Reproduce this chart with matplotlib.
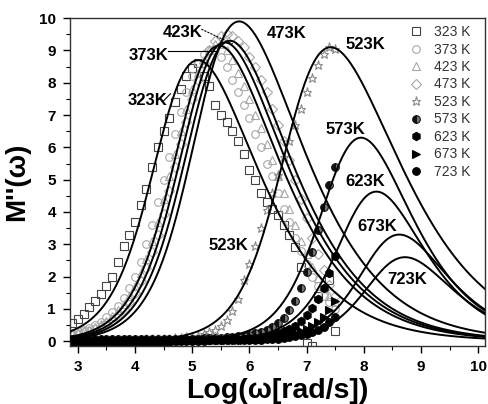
import numpy as np
import matplotlib
matplotlib.use("Agg")
import matplotlib.pyplot as plt

plt.rcParams['font.family'] = ['Liberation Sans', 'DejaVu Sans']

# measured points, log10 of angular frequency
log_w = [2.9, 3.0, 3.1, 3.2, 3.3, 3.4, 3.5, 3.6, 3.7, 3.8,
         3.9, 4.0, 4.1, 4.2, 4.3, 4.4, 4.5, 4.6, 4.7, 4.8,
         4.9, 5.0, 5.1, 5.2, 5.3, 5.4, 5.5, 5.6, 5.7, 5.8,
         5.9, 6.0, 6.1, 6.2, 6.3, 6.4, 6.5, 6.6, 6.7, 6.8,
         6.9, 7.0, 7.1, 7.2, 7.3, 7.4, 7.5]

m_323 = [0.55, 0.70, 0.85, 1.05, 1.25, 1.45, 1.70, 2.00, 2.45, 2.95,
         3.30, 3.70, 4.20, 4.70, 5.40, 6.00, 6.50, 6.90, 7.40, 7.80,
         8.20, 8.45, 8.60, 8.20, 7.90, 7.30, 7.00, 6.80, 6.50, 6.20,
         5.80, 5.30, 5.00, 4.60, 4.30, 4.10, 3.90, 3.60, 3.30, 2.90,
         2.30, -0.05, -0.15, 1.40, 0.60, 1.90, 0.30]
m_373 = [0.25, 0.30, 0.35, 0.42, 0.50, 0.60, 0.75, 0.90, 1.10, 1.35,
         1.65, 2.00, 2.45, 3.00, 3.60, 4.30, 5.00, 5.70, 6.40, 7.10,
         7.70, 8.20, 8.60, 8.90, 9.00, 9.00, 8.80, 8.50, 8.10, 7.70,
         7.30, 6.90, 6.40, 6.00, 5.50, 5.10, 4.60, 4.10, 3.70, 3.20,
         2.80, 2.40, 2.00, 1.70, 1.40, 1.20, 1.00]
m_423 = [0.22, 0.26, 0.30, 0.36, 0.43, 0.52, 0.63, 0.77, 0.95, 1.15,
         1.40, 1.70, 2.10, 2.55, 3.10, 3.70, 4.40, 5.10, 5.80, 6.50,
         7.20, 7.80, 8.30, 8.70, 9.00, 9.20, 9.20, 9.00, 8.70, 8.30,
         7.90, 7.50, 7.00, 6.60, 6.10, 5.60, 5.10, 4.60, 4.10, 3.60,
         3.10, 2.70, 2.30, 1.95, 1.65, 1.40, 1.20]
m_473 = [0.20, 0.23, 0.27, 0.32, 0.38, 0.45, 0.55, 0.67, 0.82, 1.00,
         1.22, 1.50, 1.85, 2.25, 2.75, 3.30, 3.95, 4.65, 5.40, 6.10,
         6.80, 7.50, 8.10, 8.60, 9.00, 9.30, 9.45, 9.50, 9.45, 9.30,
         9.10, 8.80, 8.50, 8.10, 7.70, 7.20, 6.70, 6.20, 5.60, 5.00,
         4.40, 3.80, 3.20, 2.70, 2.20, 1.75, 1.40]
m_523 = [0.03, 0.03, 0.03, 0.03, 0.03, 0.04, 0.04, 0.04, 0.04, 0.05,
         0.05, 0.05, 0.05, 0.06, 0.06, 0.07, 0.07, 0.08, 0.09, 0.10,
         0.12, 0.14, 0.17, 0.21, 0.27, 0.36, 0.48, 0.66, 0.92, 1.30,
         1.90, 2.40, 2.95, 3.50, 4.05, 4.60, 5.15, 5.70, 6.20, 6.70,
         7.20, 7.70, 8.15, 8.55, 8.90, 9.10, 9.05]
m_573 = [0.06, 0.06, 0.06, 0.06, 0.06, 0.06, 0.06, 0.06, 0.06, 0.06,
         0.06, 0.06, 0.06, 0.07, 0.07, 0.07, 0.07, 0.07, 0.07, 0.07,
         0.08, 0.08, 0.08, 0.09, 0.09, 0.10, 0.11, 0.12, 0.13, 0.15,
         0.17, 0.20, 0.24, 0.29, 0.36, 0.45, 0.57, 0.73, 0.95, 1.25,
         1.65, 2.15, 2.75, 3.45, 4.15, 4.85, 5.40]
m_623 = [0.03, 0.03, 0.03, 0.03, 0.03, 0.03, 0.03, 0.03, 0.03, 0.03,
         0.03, 0.03, 0.03, 0.03, 0.03, 0.03, 0.03, 0.03, 0.03, 0.04,
         0.04, 0.04, 0.04, 0.04, 0.05, 0.05, 0.05, 0.06, 0.06, 0.07,
         0.08, 0.09, 0.11, 0.13, 0.16, 0.19, 0.24, 0.30, 0.38, 0.48,
         0.62, 0.80, 1.02, 1.30, 1.65, 2.10, 2.65]
m_673 = [0.00, 0.00, 0.00, 0.00, 0.00, 0.00, 0.00, 0.00, 0.00, 0.00,
         0.00, 0.00, 0.00, 0.00, 0.01, 0.01, 0.01, 0.01, 0.01, 0.01,
         0.02, 0.02, 0.02, 0.02, 0.03, 0.03, 0.03, 0.04, 0.04, 0.04,
         0.05, 0.06, 0.07, 0.08, 0.09, 0.11, 0.13, 0.16, 0.19, 0.24,
         0.30, 0.37, 0.46, 0.58, 0.74, 0.95, 1.25]
m_723 = [-0.05, -0.05, -0.05, -0.05, -0.05, -0.04, -0.04, -0.04, -0.04, -0.04,
         -0.04, -0.03, -0.03, -0.03, -0.03, -0.02, -0.02, -0.02, -0.01, -0.01,
         0.00, 0.00, 0.01, 0.01, 0.02, 0.02, 0.02, 0.03, 0.03, 0.03,
         0.04, 0.04, 0.05, 0.05, 0.06, 0.07, 0.08, 0.10, 0.12, 0.15,
         0.18, 0.22, 0.28, 0.35, 0.45, 0.58, 0.75]

temps = ['323 K', '373 K', '423 K', '473 K', '523 K', '573 K', '623 K', '673 K', '723 K']
series = [m_323, m_373, m_423, m_473, m_523, m_573, m_623, m_673, m_723]

# marker, face, edge, size
styles = [('s', 'none', '#444444', 5.5),
          ('o', 'none', '#a8a8a8', 5.5),
          ('^', 'none', '#a8a8a8', 5.5),
          ('D', 'none', '#a8a8a8', 5.0),
          ('*', 'none', '#8a8a8a', 6.5),
          ('o', '#111111', '#111111', 5.5),
          ('h', '#000000', '#000000', 6.0),
          ('>', '#000000', '#000000', 5.5),
          ('o', '#000000', '#000000', 5.5)]

# Bergman fits: peak position (log w), peak height, beta
fit_peak = [5.10, 5.47, 5.57, 5.66, 5.82, 7.42, 7.95, 8.22, 8.62, 8.72]
fit_height = [8.70, 9.15, 9.25, 9.30, 9.90, 9.10, 6.30, 4.63, 3.30, 2.60]
fit_beta = [0.50, 0.50, 0.50, 0.50, 0.48, 0.45, 0.57, 0.60, 0.60, 0.60]


def bergman(x, xp, mmax, beta):
    r = 10.0 ** (x - xp)
    return mmax / ((1 - beta) + beta / (1 + beta) * (beta / r + r ** beta))


fig = plt.figure(figsize=(4.88, 4.04), dpi=100)
ax = fig.add_axes([0.143, 0.1436, 0.851, 0.8114])

handles = []
for vals, (mk, fc, ec, ms), lab in zip(series, styles, temps):
    h, = ax.plot(log_w, vals, ls='none', marker=mk, mfc=fc, mec=ec, ms=ms,
                 mew=0.8, label=lab, zorder=2)
    if lab == '573 K':
        h.set_fillstyle('left')
        h.set_markerfacecoloralt('#777777')
    handles.append(h)

xx = np.linspace(2.86, 10.12, 500)
for xp, hm, b in zip(fit_peak, fit_height, fit_beta):
    ax.plot(xx, bergman(xx, xp, hm, b), color='black', lw=1.4, zorder=3)

# curve labels
lab_kw = dict(fontsize=12, fontweight='bold', ha='center', va='center', zorder=4)
ax.text(4.22, 7.44, '323K', **lab_kw)
ax.text(4.24, 8.83, '373K', **lab_kw)
ax.text(4.83, 9.57, '423K', **lab_kw)
ax.text(6.65, 9.52, '473K', **lab_kw)
ax.text(8.03, 9.17, '523K', **lab_kw)
ax.text(5.64, 2.96, '523K', **lab_kw)
ax.text(7.68, 6.54, '573K', **lab_kw)
ax.text(8.03, 4.94, '623K', **lab_kw)
ax.text(8.24, 3.55, '673K', **lab_kw)
ax.text(8.75, 1.91, '723K', **lab_kw)
ax.plot([4.50, 4.62], [7.44, 7.66], color='black', lw=0.8, zorder=4)
ax.plot([4.57, 5.43], [8.98, 8.98], color='black', lw=0.8, zorder=4)
ax.plot([5.16, 5.71], [9.66, 9.20], color='black', lw=0.8, ls=(0, (2, 1)), zorder=4)

ax.set_xlim(2.86, 10.12)
ax.set_ylim(-0.15, 10.0)
ax.set_xticks(range(3, 11))
ax.set_yticks(range(0, 11))
ax.set_xticks(np.arange(3.5, 10.1, 1.0), minor=True)
ax.set_yticks(np.arange(0.5, 10.0, 1.0), minor=True)
ax.tick_params(which='major', direction='out', length=5, width=1.0, labelsize=11)
ax.tick_params(axis='x', which='major', pad=5)
ax.tick_params(axis='y', which='major', pad=5)
ax.tick_params(which='minor', direction='out', length=3, width=0.8)
for lbl in ax.get_xticklabels() + ax.get_yticklabels():
    lbl.set_fontweight('bold')
for sp in ax.spines.values():
    sp.set_linewidth(1.0)
    sp.set_color('#333333')

ax.set_xlabel('Log(ω[rad/s])', fontsize=20.5, fontweight='bold')
ax.set_ylabel("M''(ω)", fontsize=20, fontweight='bold')
ax.xaxis.set_label_coords(0.5, -0.097)
ax.yaxis.set_label_coords(-0.095, 0.5)

leg = ax.legend(handles=handles, loc='upper left', bbox_to_anchor=(0.817, 0.979),
                frameon=False, fontsize=10, handlelength=1.0, handletextpad=0.8,
                labelspacing=0.25, borderpad=0, borderaxespad=0)
for t in leg.get_texts():
    t.set_color('#333333')

fig.savefig('out.png', dpi=100)
